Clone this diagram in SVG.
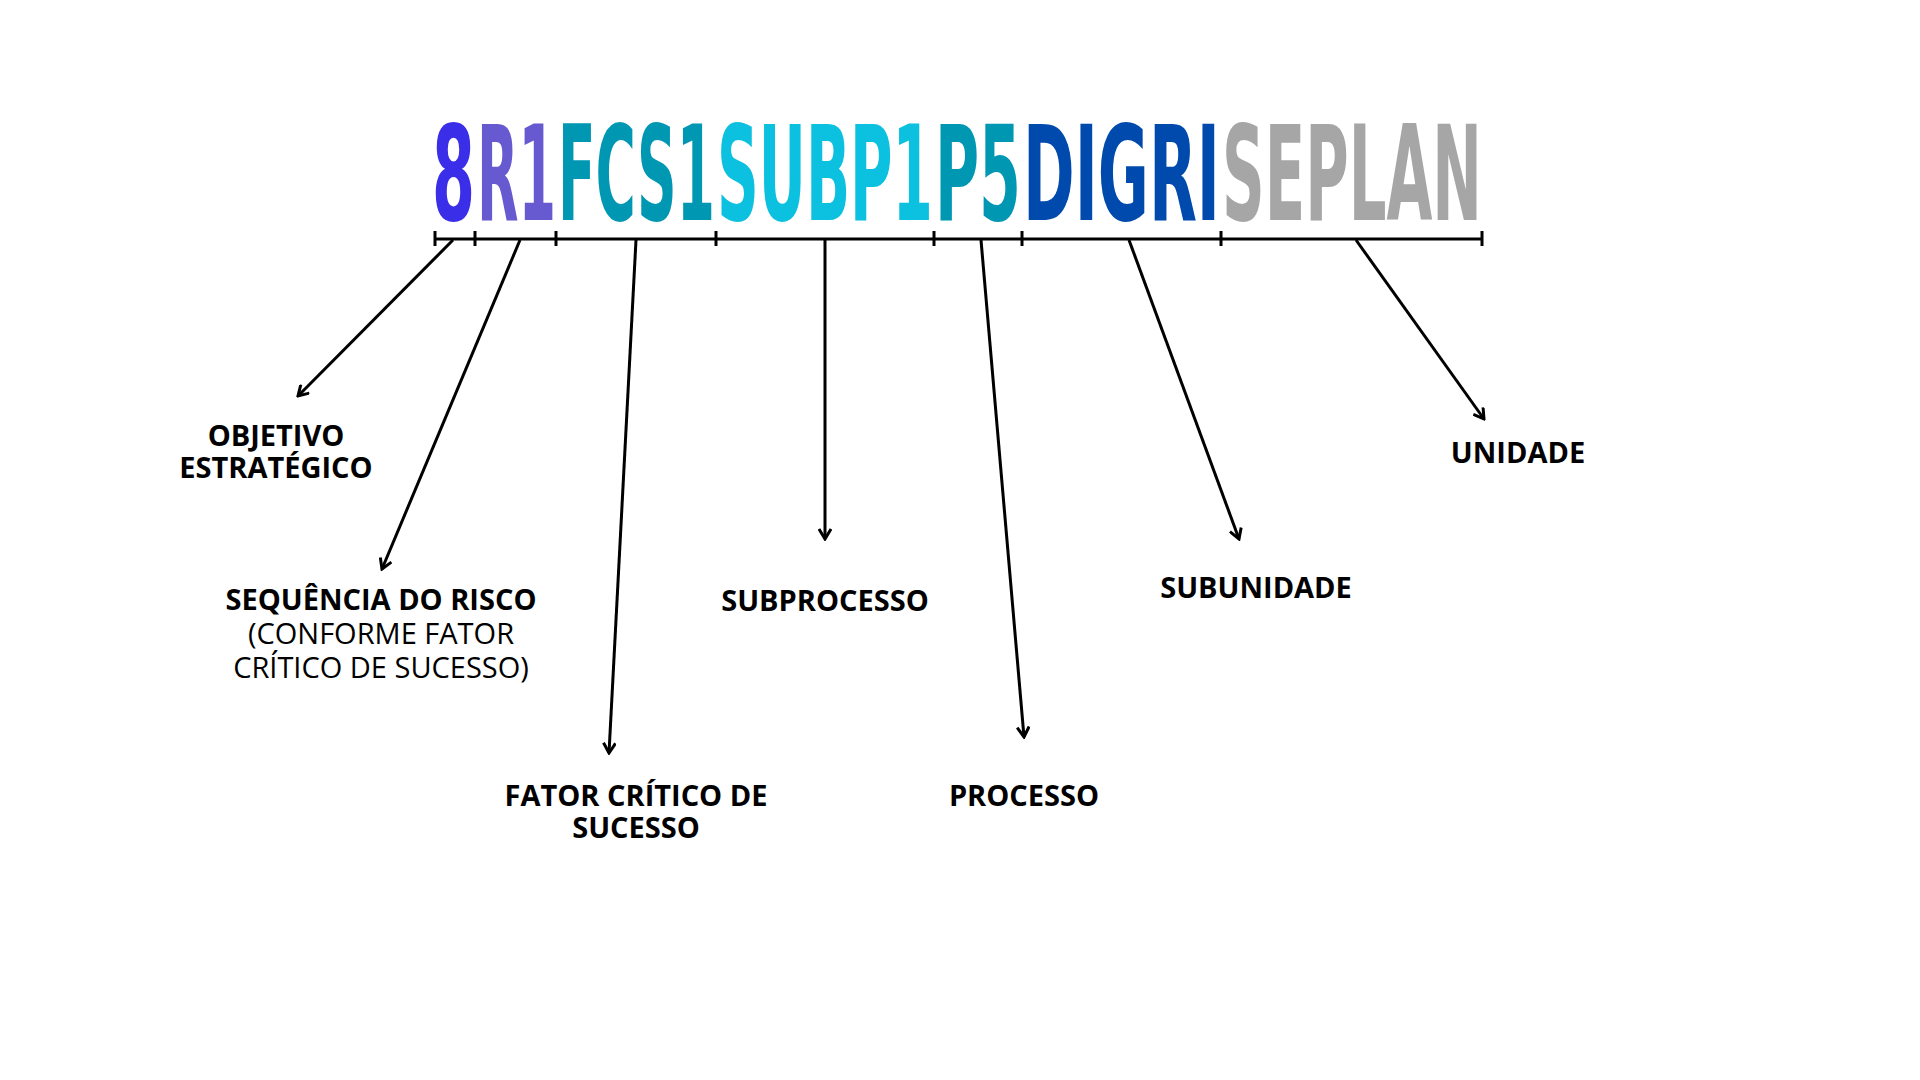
<svg xmlns="http://www.w3.org/2000/svg" width="1920" height="1080" viewBox="0 0 1920 1080">
<defs>
<marker id="ah" viewBox="0 0 14 14" refX="12" refY="7" markerWidth="14" markerHeight="14" orient="auto" markerUnits="userSpaceOnUse"><path d="M2,1 L12,7 L2,13" fill="none" stroke="#000" stroke-width="3"/></marker>
<style>
.c{font-family:"DejaVu Sans Condensed","DejaVu Sans",sans-serif;font-weight:bold;font-size:132px}
.l{font-family:"Open Sans","Liberation Sans",sans-serif;font-weight:bold;font-size:29px;text-anchor:middle;fill:#000}
.r{font-weight:normal}
.a{stroke:#000;stroke-width:3;fill:none;marker-end:url(#ah)}
</style>
</defs>
<rect width="1920" height="1080" fill="#fff"/>
<g id="code">
<text class="c" x="432" y="220" fill="#3a2ee8" textLength="43" lengthAdjust="spacingAndGlyphs">8</text>
<text class="c" x="477" y="220" fill="#6759d0" textLength="79" lengthAdjust="spacingAndGlyphs">R1</text>
<text class="c" x="558" y="220" fill="#0097b2" textLength="157" lengthAdjust="spacingAndGlyphs">FCS1</text>
<text class="c" x="717" y="220" fill="#0cc0df" textLength="216" lengthAdjust="spacingAndGlyphs">SUBP1</text>
<text class="c" x="935" y="220" fill="#0097b2" textLength="86" lengthAdjust="spacingAndGlyphs">P5</text>
<text class="c" x="1023" y="220" fill="#004aad" textLength="197" lengthAdjust="spacingAndGlyphs">DIGRI</text>
<text class="c" x="1222" y="220" fill="#a6a6a6" textLength="260" lengthAdjust="spacingAndGlyphs">SEPLAN</text>
</g>
<g id="connectors">
<path d="M435,239 H1482 M435,231 V246 M475,231 V246 M556,231 V246 M716,231 V246 M934,231 V246 M1022,231 V246 M1221,231 V246 M1482,231 V246" stroke="#000" stroke-width="3" fill="none"/>
<path class="a" d="M453,240 L298,396"/>
<path class="a" d="M520,240 L382,569"/>
<path class="a" d="M636,240 L609,753"/>
<path class="a" d="M825,240 L825,539"/>
<path class="a" d="M981,240 L1024,737"/>
<path class="a" d="M1129,240 L1239,539"/>
<path class="a" d="M1356,240 L1484,419"/>
</g>
<g id="n1"><text class="l" x="276" y="446">OBJETIVO</text><text class="l" x="276" y="478">ESTRATÉGICO</text></g>
<g id="n2"><text class="l" x="381" y="610">SEQUÊNCIA DO RISCO</text><text class="l r" x="381" y="644">(CONFORME FATOR</text><text class="l r" x="381" y="678">CRÍTICO DE SUCESSO)</text></g>
<g id="n3"><text class="l" x="636" y="806">FATOR CRÍTICO DE</text><text class="l" x="636" y="838">SUCESSO</text></g>
<g id="n4"><text class="l" x="825" y="611">SUBPROCESSO</text></g>
<g id="n5"><text class="l" x="1024" y="806">PROCESSO</text></g>
<g id="n6"><text class="l" x="1256" y="598">SUBUNIDADE</text></g>
<g id="n7"><text class="l" x="1518" y="463">UNIDADE</text></g>
</svg>
